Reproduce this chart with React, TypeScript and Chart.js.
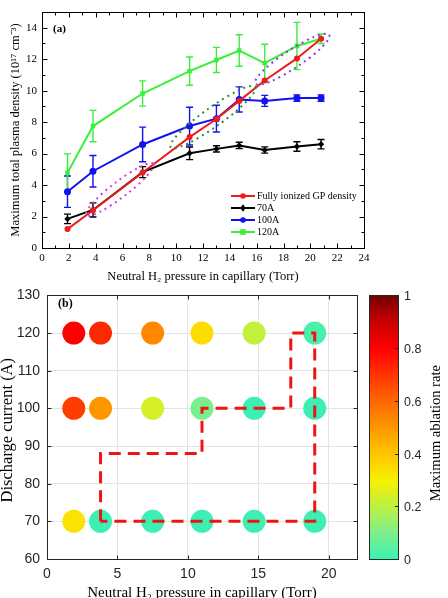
import React, { useEffect, useRef } from "react";
import { Chart, registerables } from "chart.js";

Chart.register(...registerables);

// ---------- Panel (a): peak plasma density vs. neutral H2 pressure ----------
const pressureTorr = [1.9, 3.8, 7.5, 11, 13, 14.7, 16.6, 19, 20.8];
const gpDensity = [1.2, 2.4, 4.8, 7.05, 8.2, 9.35, 10.65, 12.05, 13.3];
const density70A = [1.85, 2.42, 4.82, 6.02, 6.3, 6.52, 6.23, 6.45, 6.6];
const error70A = [0.3, 0.45, 0.35, 0.4, 0.2, 0.2, 0.2, 0.3, 0.3];
const density100A = [3.58, 4.88, 6.58, 7.75, 8.22, 9.44, 9.35, 9.53, 9.53];
const error100A = [1.0, 1.0, 1.1, 1.2, 0.85, 0.8, 0.35, 0.2, 0.2];
const density120A = [4.78, 7.75, 9.82, 11.24, 11.95, 12.55, 11.75, 12.84, 13.3];
const error120A = [1.2, 1.0, 0.8, 0.9, 0.8, 1.0, 1.2, 1.5, 0.3];
const seriesLabels = ["Fully ionized GP density", "70A", "100A", "120A"];
const densityXTicks = [0, 2, 4, 6, 8, 10, 12, 14, 16, 18, 20, 22, 24];
const densityYTicks = [0, 2, 4, 6, 8, 10, 12, 14];
const densityXMinor = [1, 3, 5, 7, 9, 11, 13, 15, 17, 19, 21, 23];
const densityYMinor = [1, 3, 5, 7, 9, 11, 13, 15];
// dotted groupings: major-axis end points [x1, y1, x2, y2] in data units
const groupEllipses = [
  [3.3, 2.1, 8.3, 5.35],
  [9.6, 6.4, 15.9, 10.25],
  [15.9, 10.45, 21.4, 13.55],
];

// ---------- Panel (b): ablation rate map ----------
const ablationPressure = [1.9, 3.8, 7.5, 11, 14.7, 19];
const currentLevels = [120, 100, 70];
const ablation120A = [0.8, 0.72, 0.53, 0.34, 0.21, 0.02];
const ablation100A = [0.68, 0.5, 0.24, 0.09, 0, 0];
const ablation70A = [0.33, 0, 0, 0, 0, 0];
const boundaryPressure = [3.8, 3.8, 11, 11, 17.3, 17.3, 19, 19, 3.8];
const boundaryCurrent = [70, 88, 88, 100, 100, 120, 120, 70, 70];
const mapXTicks = [0, 5, 10, 15, 20];
const mapYTicks = [60, 70, 80, 90, 100, 110, 120, 130];
const colorbarTicks = [0, 0.2, 0.4, 0.6, 0.8, 1];
const colorbarLabels = ["0", "0.2", "0.4", "0.6", "0.8", "1"];

const SERIF = "'Liberation Serif', 'Times New Roman', serif";
const SANS = "'Liberation Sans', Arial, sans-serif";

const cmapStops: [number, number[]][] = [
  [0, [60, 240, 180]],
  [0.1, [126, 240, 138]],
  [0.2, [189, 240, 64]],
  [0.3, [248, 240, 0]],
  [0.4, [255, 196, 0]],
  [0.5, [255, 150, 0]],
  [0.6, [255, 102, 0]],
  [0.7, [255, 51, 0]],
  [0.8, [255, 0, 0]],
  [0.9, [200, 0, 0]],
  [1, [115, 0, 0]],
];

function rateColor(v: number): string {
  const t = Math.max(0, Math.min(1, v));
  for (let i = 0; i < cmapStops.length - 1; i++) {
    const [a, ca] = cmapStops[i];
    const [b, cb] = cmapStops[i + 1];
    if (t <= b) {
      const f = (t - a) / (b - a);
      const c = ca.map((c0, k) => Math.round(c0 + (cb[k] - c0) * f));
      return `rgb(${c[0]},${c[1]},${c[2]})`;
    }
  }
  const c = cmapStops[cmapStops.length - 1][1];
  return `rgb(${c[0]},${c[1]},${c[2]})`;
}

const RED = "#EE1C1C";
const BLACK = "#000000";
const BLUE = "#1212EE";
const GREEN = "#3CEE3C";
const ellipseColors = ["#D83CD8", "#2E8B2E", "#8E3CD8"];
const ellipseHalfWidth = [8, 9.5, 9];

function drawMarker(ctx: CanvasRenderingContext2D, style: string, x: number, y: number, r: number, color: string) {
  ctx.save();
  ctx.fillStyle = color;
  ctx.beginPath();
  if (style === "circle") {
    ctx.arc(x, y, r, 0, Math.PI * 2);
  } else if (style === "rect") {
    ctx.rect(x - r, y - r, 2 * r, 2 * r);
  } else {
    ctx.moveTo(x, y - r - 1);
    ctx.lineTo(x + r, y);
    ctx.lineTo(x, y + r + 1);
    ctx.lineTo(x - r, y);
    ctx.closePath();
  }
  ctx.fill();
  ctx.restore();
}

const panelAPlugin = {
  id: "panelA",
  beforeDatasetsDraw(chart: any) {
    const { ctx } = chart;
    const xs = chart.scales.x;
    const ys = chart.scales.y;
    const vals = [gpDensity, density70A, density100A, density120A];
    const errs = [null, error70A, error100A, error120A];
    ctx.save();
    chart.data.datasets.forEach((ds: any, i: number) => {
      const e = errs[i];
      if (!e) return;
      ctx.strokeStyle = ds.borderColor;
      ctx.lineWidth = 1.4;
      pressureTorr.forEach((p, j) => {
        const x = xs.getPixelForValue(p);
        const yt = ys.getPixelForValue(vals[i][j] + e[j]);
        const yb = ys.getPixelForValue(vals[i][j] - e[j]);
        ctx.beginPath();
        ctx.moveTo(x, yt);
        ctx.lineTo(x, yb);
        ctx.moveTo(x - 3.5, yt);
        ctx.lineTo(x + 3.5, yt);
        ctx.moveTo(x - 3.5, yb);
        ctx.lineTo(x + 3.5, yb);
        ctx.stroke();
      });
    });
    ctx.restore();
  },
  afterDatasetsDraw(chart: any) {
    const { ctx } = chart;
    const xs = chart.scales.x;
    const ys = chart.scales.y;
    ctx.save();
    ctx.lineWidth = 2;
    ctx.setLineDash([2, 4]);
    groupEllipses.forEach((g, k) => {
      const x1 = xs.getPixelForValue(g[0]);
      const y1 = ys.getPixelForValue(g[1]);
      const x2 = xs.getPixelForValue(g[2]);
      const y2 = ys.getPixelForValue(g[3]);
      const a = Math.hypot(x2 - x1, y2 - y1) / 2;
      const ang = Math.atan2(y2 - y1, x2 - x1);
      ctx.strokeStyle = ellipseColors[k];
      ctx.beginPath();
      ctx.ellipse((x1 + x2) / 2, (y1 + y2) / 2, a, ellipseHalfWidth[k], ang, 0, Math.PI * 2);
      ctx.stroke();
    });
    ctx.restore();
  },
  afterDraw(chart: any) {
    const { ctx, chartArea: ca } = chart;
    const xs = chart.scales.x;
    const ys = chart.scales.y;
    const L = Math.round(ca.left) + 0.5;
    const R = Math.round(ca.right) + 0.5;
    const T = Math.round(ca.top) + 0.5;
    const B = Math.round(ca.bottom) + 0.5;
    ctx.save();
    ctx.strokeStyle = "#000";
    ctx.lineWidth = 1;
    ctx.strokeRect(L, T, R - L, B - T);
    ctx.beginPath();
    const xTick = (v: number, len: number) => {
      const px = Math.round(xs.getPixelForValue(v)) + 0.5;
      ctx.moveTo(px, B);
      ctx.lineTo(px, B - len);
      ctx.moveTo(px, T);
      ctx.lineTo(px, T + len);
    };
    const yTick = (v: number, len: number) => {
      const py = Math.round(ys.getPixelForValue(v)) + 0.5;
      ctx.moveTo(L, py);
      ctx.lineTo(L + len, py);
      ctx.moveTo(R, py);
      ctx.lineTo(R - len, py);
    };
    densityXTicks.forEach((v) => xTick(v, 5));
    densityXMinor.forEach((v) => xTick(v, 3));
    densityYTicks.forEach((v) => yTick(v, 5));
    densityYMinor.forEach((v) => yTick(v, 3));
    ctx.stroke();

    // axis titles
    ctx.fillStyle = "#000";
    ctx.font = `12.5px ${SERIF}`;
    ctx.textAlign = "center";
    ctx.textBaseline = "middle";
    ctx.fillText("Neutral H\u2082 pressure in capillary (Torr)", (ca.left + ca.right) / 2, 277);
    ctx.save();
    ctx.translate(16, (ca.top + ca.bottom) / 2);
    ctx.rotate(-Math.PI / 2);
    ctx.fillText("Maximum total plasma density (10\u00B9\u2077 cm\u207B\u00B3)", 0, 0);
    ctx.restore();

    // panel tag
    ctx.font = `bold 11px ${SERIF}`;
    ctx.textAlign = "left";
    ctx.fillText("(a)", 53, 29);

    // legend
    const styles = ["circle", "rectRot", "circle", "rect"];
    ctx.font = `10px ${SERIF}`;
    chart.data.datasets.forEach((ds: any, i: number) => {
      const y = 196 + 12 * i;
      ctx.strokeStyle = ds.borderColor;
      ctx.lineWidth = 2;
      ctx.beginPath();
      ctx.moveTo(231, y);
      ctx.lineTo(255, y);
      ctx.stroke();
      drawMarker(ctx, styles[i], 243, y, 2.8, ds.borderColor);
      ctx.fillStyle = "#000";
      ctx.fillText(seriesLabels[i], 257, y + 0.5);
    });
    ctx.restore();
  },
};

const panelBPlugin = {
  id: "panelB",
  afterDraw(chart: any) {
    const { ctx, chartArea: ca } = chart;
    const xs = chart.scales.x;
    const ys = chart.scales.y;
    const L = Math.round(ca.left) + 0.5;
    const R = Math.round(ca.right) + 0.5;
    const T = Math.round(ca.top) + 0.5;
    const B = Math.round(ca.bottom) + 0.5;
    ctx.save();
    ctx.strokeStyle = "#262626";
    ctx.lineWidth = 1;
    ctx.strokeRect(L, T, R - L, B - T);
    ctx.beginPath();
    mapXTicks.forEach((v) => {
      const px = Math.round(xs.getPixelForValue(v)) + 0.5;
      ctx.moveTo(px, B);
      ctx.lineTo(px, B - 4);
      ctx.moveTo(px, T);
      ctx.lineTo(px, T + 4);
    });
    mapYTicks.forEach((v) => {
      const py = Math.round(ys.getPixelForValue(v)) + 0.5;
      ctx.moveTo(L, py);
      ctx.lineTo(L + 4, py);
      ctx.moveTo(R, py);
      ctx.lineTo(R - 4, py);
    });
    ctx.stroke();

    // colorbar
    const cbL = 369;
    const cbR = 399;
    const cbT = ca.top;
    const cbB = ca.bottom;
    const grad = ctx.createLinearGradient(0, cbB, 0, cbT);
    cmapStops.forEach(([s, c]) => grad.addColorStop(s, `rgb(${c[0]},${c[1]},${c[2]})`));
    ctx.fillStyle = grad;
    ctx.fillRect(cbL, cbT, cbR - cbL, cbB - cbT);
    ctx.strokeStyle = "#262626";
    ctx.strokeRect(cbL + 0.5, Math.round(cbT) + 0.5, cbR - cbL - 1, Math.round(cbB - cbT));
    ctx.fillStyle = "#262626";
    ctx.font = `12.5px ${SANS}`;
    ctx.textAlign = "left";
    ctx.textBaseline = "middle";
    ctx.beginPath();
    colorbarTicks.forEach((v, i) => {
      const py = Math.round(cbB - v * (cbB - cbT)) + 0.5;
      ctx.moveTo(cbR - 0.5, py);
      ctx.lineTo(cbR - 4, py);
      ctx.fillText(colorbarLabels[i], cbR + 5, py + 1);
    });
    ctx.stroke();

    ctx.fillStyle = "#000";
    ctx.font = `14.5px ${SERIF}`;
    ctx.textAlign = "center";
    ctx.save();
    ctx.translate(436, (cbT + cbB) / 2 + 6);
    ctx.rotate(-Math.PI / 2);
    ctx.fillText("Maximum ablation rate", 0, 0);
    ctx.restore();

    // axis titles
    ctx.font = `15px ${SERIF}`;
    ctx.fillText("Neutral H\u2082 pressure in capillary (Torr)", (ca.left + ca.right) / 2, 313);
    ctx.font = `16.5px ${SERIF}`;
    ctx.save();
    ctx.translate(8, (ca.top + ca.bottom) / 2 + 3);
    ctx.rotate(-Math.PI / 2);
    ctx.fillText("Discharge current (A)", 0, 0);
    ctx.restore();

    ctx.font = `bold 12px ${SERIF}`;
    ctx.textAlign = "left";
    ctx.fillText("(b)", 58, 24);
    ctx.restore();
  },
};

export default function App() {
  const topRef = useRef<HTMLCanvasElement | null>(null);
  const bottomRef = useRef<HTMLCanvasElement | null>(null);

  useEffect(() => {
    if (!topRef.current || !bottomRef.current) return;
    const pts = (ys: number[]) => pressureTorr.map((x, i) => ({ x, y: ys[i] }));
    const serifTick = { family: SERIF, size: 11 };

    const top = new Chart(topRef.current, {
      type: "line",
      data: {
        datasets: [
          { label: seriesLabels[0], data: pts(gpDensity), borderColor: RED, backgroundColor: RED, pointStyle: "circle", pointRadius: 3, borderWidth: 2, pointBorderWidth: 0 },
          { label: seriesLabels[1], data: pts(density70A), borderColor: BLACK, backgroundColor: BLACK, pointStyle: "rectRot", pointRadius: 3.2, borderWidth: 2, pointBorderWidth: 0 },
          { label: seriesLabels[2], data: pts(density100A), borderColor: BLUE, backgroundColor: BLUE, pointStyle: "circle", pointRadius: 3.5, borderWidth: 2, pointBorderWidth: 0 },
          { label: seriesLabels[3], data: pts(density120A), borderColor: GREEN, backgroundColor: GREEN, pointStyle: "rect", pointRadius: 3.2, borderWidth: 2, pointBorderWidth: 0 },
        ],
      } as any,
      options: {
        animation: false,
        responsive: false,
        maintainAspectRatio: false,
        layout: { padding: { top: 12, right: 84, left: 0, bottom: 0 } },
        plugins: { legend: { display: false }, tooltip: { enabled: false } },
        scales: {
          x: {
            type: "linear",
            min: 0,
            max: 24,
            afterBuildTicks: (s: any) => { s.ticks = densityXTicks.map((v) => ({ value: v })); },
            afterFit: (s: any) => { s.height = 42; },
            grid: { display: false, drawTicks: false },
            border: { display: false },
            ticks: { padding: 4, color: "#000", font: serifTick, maxRotation: 0, autoSkip: false },
          },
          y: {
            type: "linear",
            min: 0,
            max: 15,
            afterBuildTicks: (s: any) => { s.ticks = densityYTicks.map((v) => ({ value: v })); },
            afterFit: (s: any) => { s.width = 42; },
            grid: { display: false, drawTicks: false },
            border: { display: false },
            ticks: { padding: 5, color: "#000", font: serifTick, autoSkip: false },
          },
        },
      } as any,
      plugins: [panelAPlugin],
    });

    const row = (level: number) => ablationPressure.map((x) => ({ x, y: level }));
    const bottom = new Chart(bottomRef.current, {
      type: "scatter",
      data: {
        datasets: [
          {
            data: boundaryPressure.map((x, i) => ({ x, y: boundaryCurrent[i] })),
            showLine: true,
            borderColor: "#EE1414",
            borderWidth: 3,
            borderDash: [12, 7],
            pointRadius: 0,
            fill: false,
            order: 0,
          },
          { data: row(currentLevels[0]), backgroundColor: ablation120A.map(rateColor), pointRadius: 11.5, borderWidth: 0, order: 1 },
          { data: row(currentLevels[1]), backgroundColor: ablation100A.map(rateColor), pointRadius: 11.5, borderWidth: 0, order: 1 },
          { data: row(currentLevels[2]), backgroundColor: ablation70A.map(rateColor), pointRadius: 11.5, borderWidth: 0, order: 1 },
        ],
      } as any,
      options: {
        animation: false,
        responsive: false,
        maintainAspectRatio: false,
        layout: { padding: { top: 10, right: 91, left: 0, bottom: 0 } },
        plugins: { legend: { display: false }, tooltip: { enabled: false } },
        scales: {
          x: {
            type: "linear",
            min: 0,
            max: 22,
            afterBuildTicks: (s: any) => { s.ticks = mapXTicks.map((v) => ({ value: v })); },
            afterFit: (s: any) => { s.height = 39; },
            grid: { color: "#E4E4E4", drawTicks: false },
            border: { display: false },
            ticks: { padding: 7, color: "#262626", font: { family: SANS, size: 14 }, maxRotation: 0, autoSkip: false },
          },
          y: {
            type: "linear",
            min: 60,
            max: 130,
            afterBuildTicks: (s: any) => { s.ticks = mapYTicks.map((v) => ({ value: v })); },
            afterFit: (s: any) => { s.width = 47; },
            grid: { color: "#E4E4E4", drawTicks: false },
            border: { display: false },
            ticks: { padding: 7, color: "#262626", font: { family: SANS, size: 14 }, autoSkip: false },
          },
        },
      } as any,
      plugins: [panelBPlugin],
    });

    return () => {
      top.destroy();
      bottom.destroy();
    };
  }, []);

  return (
    <div style={{ position: "absolute", left: 0, top: 0, width: 448, height: 598, background: "#fff", overflow: "hidden" }}>
      <canvas ref={topRef} width={448} height={290} style={{ position: "absolute", left: 0, top: 0, width: 448, height: 290 }} />
      <canvas ref={bottomRef} width={448} height={318} style={{ position: "absolute", left: 0, top: 280, width: 448, height: 318 }} />
    </div>
  );
}
